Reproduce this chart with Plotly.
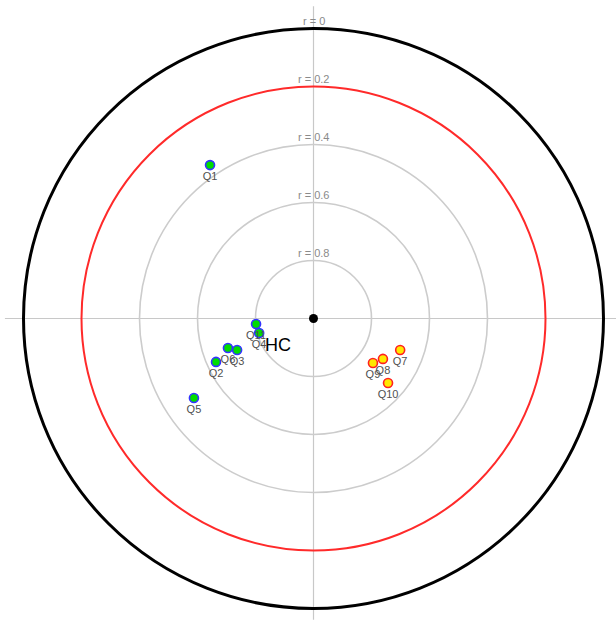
import numpy as np
import plotly.graph_objects as go

# Correlation r of each item with the centre (r = 1 at the centre, r = 0 on the rim)
# and its direction in degrees (counter-clockwise from the positive x axis).
green_labels = ["Q1", "Q2", "Q3", "Q4", "Q5", "Q6", "Q11"]
green_r = [0.362, 0.632, 0.715, 0.806, 0.505, 0.688, 0.801]
green_angle = [124.0, 204.0, 202.4, 194.9, 213.6, 199.0, 185.5]

red_labels = ["Q7", "Q8", "Q9", "Q10"]
red_r = [0.682, 0.723, 0.744, 0.660]
red_angle = [340.0, 329.8, 323.2, 319.1]

grid_r = [0.8, 0.6, 0.4]
limit_r = 0.2
outer_r = 0.0
ring_labels = ["r = 0", "r = 0.2", "r = 0.4", "r = 0.6", "r = 0.8"]
ring_values = [0.0, 0.2, 0.4, 0.6, 0.8]


def to_xy(r, angle):
    d = 1.0 - np.asarray(r, dtype=float)
    a = np.radians(np.asarray(angle, dtype=float))
    return d * np.cos(a), d * np.sin(a)


fig = go.Figure()

# Rings: grey grid, red limit, black rim
shapes = []
for rv in grid_r:
    d = 1 - rv
    shapes.append(dict(type="circle", xref="x", yref="y", x0=-d, y0=-d, x1=d, y1=d,
                       line=dict(color="#cccccc", width=1.6), layer="below"))
d = 1 - limit_r
shapes.append(dict(type="circle", xref="x", yref="y", x0=-d, y0=-d, x1=d, y1=d,
                   line=dict(color="#ff2a2a", width=2), layer="below"))
d = 1 - outer_r
shapes.append(dict(type="circle", xref="x", yref="y", x0=-d, y0=-d, x1=d, y1=d,
                   line=dict(color="#000000", width=3), layer="below"))
# Cross-hair axes
shapes.append(dict(type="line", xref="x", yref="paper", x0=0, x1=0, y0=0.01, y1=0.99,
                   line=dict(color="#c8c8c8", width=1.2), layer="below"))
shapes.append(dict(type="line", xref="paper", yref="y", x0=0.008, x1=1, y0=0, y1=0,
                   line=dict(color="#c8c8c8", width=1.2), layer="below"))

annotations = []
for lab, rv in zip(ring_labels, ring_values):
    annotations.append(dict(x=0, y=1 - rv, xref="x", yref="y", text=lab, showarrow=False,
                            yanchor="bottom", yshift=0,
                            font=dict(family="Liberation Sans, Arial", size=11, color="#8a8a8a")))
annotations.append(dict(x=-0.122, y=-0.091, xref="x", yref="y", text="HC", showarrow=False,
                        font=dict(family="Liberation Sans, Arial", size=18, color="#000000")))

gx, gy = to_xy(green_r, green_angle)
fig.add_trace(go.Scatter(
    x=gx, y=gy, mode="markers+text", text=green_labels, textposition="bottom center",
    textfont=dict(family="Liberation Sans, Arial", size=11, color="#505050"),
    marker=dict(size=9, color="#00dd00", line=dict(color="#3333ff", width=1.6)),
    hoverinfo="text", showlegend=False))

rx, ry = to_xy(red_r, red_angle)
fig.add_trace(go.Scatter(
    x=rx, y=ry, mode="markers+text", text=red_labels, textposition="bottom center",
    textfont=dict(family="Liberation Sans, Arial", size=11, color="#505050"),
    marker=dict(size=9, color="#ffe800", line=dict(color="#ff2020", width=1.6)),
    hoverinfo="text", showlegend=False))

# Centre point
cx, cy = to_xy([1.0], [0.0])
fig.add_trace(go.Scatter(x=cx, y=cy, mode="markers",
                         marker=dict(size=9, color="#000000"), hoverinfo="skip", showlegend=False))

scale = 290.0
fig.update_layout(
    width=616, height=626,
    margin=dict(l=0, r=0, t=0, b=0),
    paper_bgcolor="white", plot_bgcolor="white",
    shapes=shapes, annotations=annotations,
    xaxis=dict(range=[-313.5 / scale, (616 - 313.5) / scale], visible=False, fixedrange=True),
    yaxis=dict(range=[-(626 - 318.5) / scale, 318.5 / scale], visible=False, fixedrange=True),
)

fig.write_html("out.html")
